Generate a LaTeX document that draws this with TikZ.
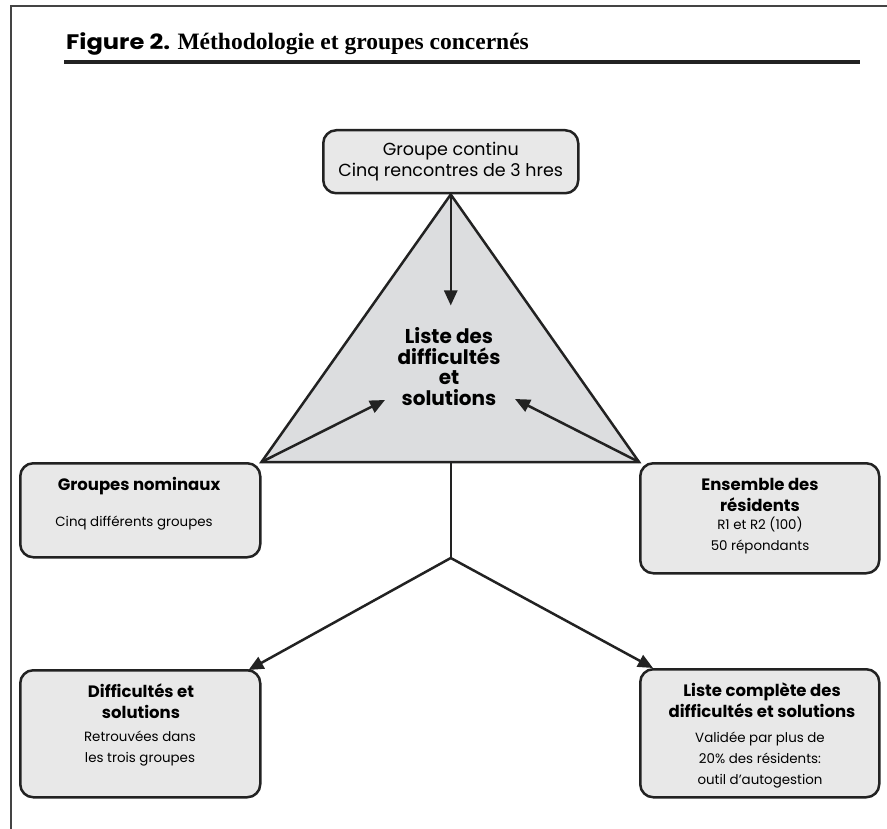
\documentclass[tikz,border=0pt]{standalone}
\usepackage{fontspec}
\setmainfont{Poppins}
\newfontfamily\serifbold{Liberation Serif}
\newfontfamily\headsans[FakeStretch=1.15]{Poppins}
\usetikzlibrary{arrows.meta}

\definecolor{ink}{HTML}{222222}
\definecolor{boxfill}{HTML}{E8E8E8}
\definecolor{trifill}{HTML}{DCDDDF}
\definecolor{framegray}{HTML}{444444}

\pgfdeclarelayer{bg}
\pgfsetlayers{bg,main}

\begin{document}
\begin{tikzpicture}[x=1pt,y=-1pt,
  panel/.style={draw=ink, line width=2.5pt, fill=boxfill, rounded corners=13pt, inner sep=0pt, anchor=north west},
  % the base anchor of a multi-line node sits on its last line
  headtxt/.style={font=\fontsize{16.5}{21}\selectfont\bfseries, align=center, anchor=base, inner sep=0pt},
  bodytxt/.style={font=\fontsize{13.4}{20.8}\selectfont, align=center, anchor=base, inner sep=0pt},
  link/.style={draw=ink, line width=2.5pt},
  arrowlink/.style={link, -{Triangle[length=15pt,width=13pt]}}
]
\useasboundingbox (0,0) rectangle (887,829);

% page frame and title
\draw[framegray, line width=2pt] (11,829) -- (11,6) -- (887,6);
\node[anchor=base west, inner sep=0pt, font=\headsans\fontsize{21}{21}\selectfont\bfseries] (fig) at (66,50) {Figure 2.};
\node[anchor=base west, inner sep=0pt, font=\serifbold\fontsize{23.5}{23.5}\selectfont\bfseries] (ttl) at ([xshift=7pt]fig.base east) {Méthodologie et groupes concernés};
\draw[ink, line width=3.5pt] (64,62) -- (860,62);

% boxes
\node[panel, minimum width=255pt, minimum height=63pt, align=center,
      font=\fontsize{17.5}{21}\selectfont] (tb) at (322,129) {Groupe continu\\Cinq rencontres de 3 hres};
\node[panel, minimum width=240pt, minimum height=94pt] (gn) at (19,462) {};
\node[panel, minimum width=239pt, minimum height=110pt] (er) at (639,462) {};
\node[panel, minimum width=240pt, minimum height=127pt] (ds) at (19,669) {};
\node[panel, minimum width=239pt, minimum height=128pt] (lc) at (639,668) {};

% central triangle
\begin{pgfonlayer}{bg}
\filldraw[draw=ink, fill=trifill, line width=2.5pt] (tb.south) -- (gn.north east) -- (er.north west) -- cycle;
\end{pgfonlayer}
\node[font=\fontsize{20}{20.5}\selectfont\bfseries, align=center, anchor=base, inner sep=0pt] (tritxt) at (449,405)
  {Liste des\\difficultés\\et\\solutions};

% box texts
\node[headtxt] (gnh) at (139,490) {Groupes nominaux};
\node[bodytxt] (gnb) at (134,526) {Cinq différents groupes};

\node[headtxt] (erh) at (760,511) {Ensemble des\\résidents};
\node[bodytxt] (erb) at (760,550) {R1 et R2 (100)\\50 répondants};

\node[headtxt] (dsh) at (141,718) {Difficultés et\\solutions};
\node[bodytxt] (dsb) at (140,762) {Retrouvées dans\\les trois groupes};

\node[headtxt] (lch) at (762,717) {Liste complète des\\difficultés et solutions};
\node[bodytxt] (lcb) at (760,784) {Validée par plus de\\20\% des résidents:\\outil d’autogestion};

% connectors
\coordinate (topTip) at ([yshift=-111pt]tb.south);
\coordinate (leftTip) at (385,400);
\coordinate (rightTip) at (515,399);
\coordinate (baseMid) at (tb.south |- gn.north east);
\coordinate (fork) at ([yshift=-96pt]baseMid);

\draw[arrowlink] (tb.south) -- (topTip);
\draw[arrowlink] (gn.north east) -- (leftTip);
\draw[arrowlink] (er.north west) -- (rightTip);
\draw[link] (baseMid) -- (fork);
\draw[arrowlink] (fork) -- ([xshift=-13pt,yshift=-1pt]ds.north east);
\draw[arrowlink] (fork) -- ([xshift=14pt]lc.north west);
\end{tikzpicture}
\end{document}
